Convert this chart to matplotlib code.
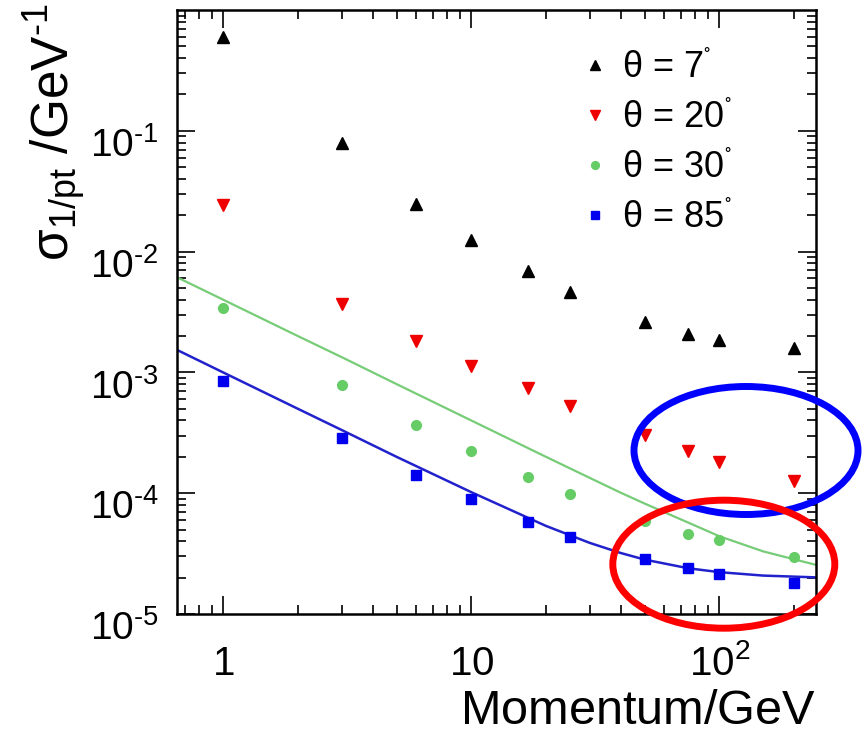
import matplotlib
matplotlib.use("Agg")
import matplotlib.pyplot as plt
from matplotlib.patches import Ellipse
from matplotlib.transforms import ScaledTranslation
from matplotlib.ticker import NullFormatter, LogLocator

plt.rcParams['font.family'] = ['Liberation Sans', 'DejaVu Sans']
plt.rcParams['mathtext.fontset'] = 'custom'
plt.rcParams['mathtext.rm'] = 'Liberation Sans'
plt.rcParams['mathtext.it'] = 'Liberation Sans:italic'
plt.rcParams['mathtext.bf'] = 'Liberation Sans:bold'
plt.rcParams['mathtext.default'] = 'regular'

# ---- data ----
momentum = [1, 3, 6, 10, 17, 25, 50, 75, 100, 200]
sigma_7 = [0.60, 0.080, 0.025, 0.0124, 0.0069, 0.0046, 0.0026, 0.00207, 0.00185, 0.00158]
sigma_20 = [0.0242, 0.00366, 0.00181, 0.00112, 0.00074, 0.000525, 0.000302, 0.000223, 0.000181, 0.000126]
sigma_30 = [0.0034, 0.00078, 0.000366, 0.000223, 0.000136, 9.8e-5, 5.9e-5, 4.6e-5, 4.1e-5, 2.96e-5]
sigma_85 = [0.000845, 0.000286, 0.000141, 8.9e-5, 5.8e-5, 4.33e-5, 2.85e-5, 2.4e-5, 2.14e-5, 1.8e-5]

fit_p = [0.65, 1, 2, 3, 5, 10, 20, 30, 40, 50, 75, 100, 150, 245]
fit_30 = [6.15e-3, 4.0e-3, 2.0e-3, 1.34e-3, 8.0e-4, 4.0e-4, 2.0e-4, 1.34e-4, 1.01e-4, 8.2e-5, 5.7e-5, 4.4e-5, 3.3e-5, 2.55e-5]
fit_85 = [1.54e-3, 1.0e-3, 5.0e-4, 3.34e-4, 2.0e-4, 1.02e-4, 5.36e-5, 3.88e-5, 3.2e-5, 2.82e-5, 2.39e-5, 2.22e-5, 2.08e-5, 2.01e-5]

labels = ['θ = 7$^{^{\\circ}}$', 'θ = 20$^{^{\\circ}}$', 'θ = 30$^{^{\\circ}}$', 'θ = 85$^{^{\\circ}}$']
xtick_vals = [1, 10, 100]
xtick_labels = ['$1$', '$10$', '$10^{2}$']
ytick_vals = [1e-5, 1e-4, 1e-3, 1e-2, 1e-1]
ytick_labels = ['$10^{\\text{-}5}$', '$10^{\\text{-}4}$', '$10^{\\text{-}3}$',
                '$10^{\\text{-}2}$', '$10^{\\text{-}1}$']

W, H = 868, 734
fig = plt.figure(figsize=(W / 100, H / 100), dpi=100)
ax = fig.add_axes([176.7 / W, 1 - 614 / H, (816 - 176.7) / W, (614 - 10) / H])
ax.set_xscale('log')
ax.set_yscale('log')
ax.set_xlim(0.65, 245)
ax.set_ylim(1e-5, 1)

c_green = '#66cc66'
c_blue = '#0000ee'
c_red = '#ee0000'

ax.plot(fit_p, fit_30, color='#77cc77', lw=1.6, zorder=2)
ax.plot(fit_p, fit_85, color='#2222cc', lw=1.8, zorder=2)

h7, = ax.plot(momentum, sigma_7, ls='none', marker='^', ms=8.5, color='black', zorder=3)
h20, = ax.plot(momentum, sigma_20, ls='none', marker='v', ms=8.5, color=c_red, zorder=3)
h30, = ax.plot(momentum, sigma_30, ls='none', marker='o', ms=7, color=c_green, zorder=3)
h85, = ax.plot(momentum, sigma_85, ls='none', marker='s', ms=7.5, color=c_blue, zorder=3)

leg = ax.legend([h7, h20, h30, h85], labels, loc='upper left',
                bbox_to_anchor=(0.598, 0.975), frameon=False, fontsize=26,
                handlelength=0.6, handletextpad=0.45, labelspacing=0.42,
                markerscale=0.8, borderpad=0.2)

# ticks
ax.set_xticks(xtick_vals, labels=xtick_labels)
ax.set_yticks(ytick_vals, labels=ytick_labels)
ax.xaxis.set_minor_locator(LogLocator(base=10, subs=range(2, 10), numticks=20))
ax.yaxis.set_minor_locator(LogLocator(base=10, subs=range(2, 10), numticks=20))
ax.xaxis.set_minor_formatter(NullFormatter())
ax.yaxis.set_minor_formatter(NullFormatter())
ax.tick_params(which='both', direction='in', top=True, right=True, width=1.2, color='black')
ax.tick_params(which='major', length=13)
ax.tick_params(which='minor', length=6.5)
ax.tick_params(axis='x', which='major', labelsize=29, pad=44)
ax.tick_params(axis='y', which='major', labelsize=28, pad=13)
for s in ax.spines.values():
    s.set_linewidth(1.8)

off = ScaledTranslation(0, -0.26, fig.dpi_scale_trans)
for t in ax.yaxis.get_major_ticks():
    t.label1.set_va('baseline')
    t.label1.set_transform(t.label1.get_transform() + off)
for t in ax.xaxis.get_major_ticks():
    t.label1.set_va('baseline')

# axis titles
fig.text(816 / W, 1 - 724 / H, '$Momentum/GeV$', ha='right', va='baseline', fontsize=35)
fig.text(70 / W, 1 - 3 / H, '$\\sigma_{1/pt}$ /GeV$^{\\text{-}1}$', rotation=90,
         rotation_mode='anchor', ha='right', va='baseline', fontsize=37)

# annotation ellipses
fig.add_artist(Ellipse((746 / W, 1 - 450.5 / H), 224 / W, 128 / H, fill=False,
                       edgecolor='#0000ff', lw=5, transform=fig.transFigure, zorder=10))
fig.add_artist(Ellipse((723.8 / W, 1 - 564.2 / H), 222 / W, 128 / H, fill=False,
                       edgecolor='#ff0000', lw=5, transform=fig.transFigure, zorder=10))

fig.savefig('out.png', dpi=100)
